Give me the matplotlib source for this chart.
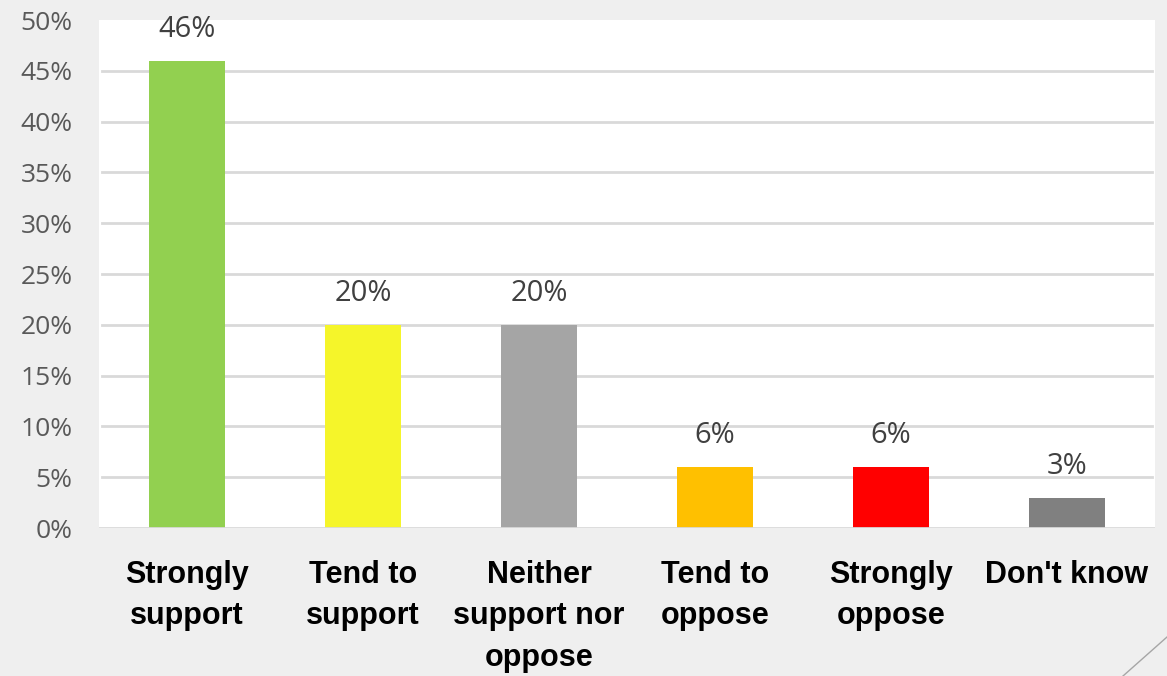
import matplotlib
matplotlib.use("Agg")
import matplotlib.pyplot as plt
from matplotlib.lines import Line2D

categories = ["Strongly\nsupport", "Tend to\nsupport", "Neither\nsupport nor\noppose", "Tend to\noppose", "Strongly\noppose", "Don't know"]
values = [46, 20, 20, 6, 6, 3]
labels = ["46%", "20%", "20%", "6%", "6%", "3%"]
colors = ["#92d050", "#f5f52a", "#a5a5a5", "#ffc000", "#ff0000", "#808080"]
yticks = [0, 5, 10, 15, 20, 25, 30, 35, 40, 45, 50]

fig = plt.figure(figsize=(11.67, 6.76), dpi=100, facecolor="#efefef")
ax = fig.add_axes([99/1167, 1-528/676, (1155-99)/1167, (528-20)/676])
ax.set_facecolor("white")

x = list(range(len(categories)))
bars = ax.bar(x, values, width=0.43, color=colors, zorder=3)
ax.set_xlim(-0.5, len(categories) - 0.5)
ax.set_ylim(0, 50)
ax.set_yticks(yticks)
ax.set_yticklabels([f"{t}%" for t in yticks], fontsize=19, color="#595959", family="Open Sans")
ax.set_xticks(x)
ax.set_xticklabels(categories, fontsize=22, fontweight="bold", family="Liberation Sans",
                   color="black", va="top", linespacing=1.5)
ax.tick_params(axis="x", length=0, pad=23)
ax.tick_params(axis="y", length=0, pad=19)

for t in yticks[1:-1]:
    ax.axhline(t, xmin=3/1056, xmax=1053/1056, color="#d9d9d9", lw=2, zorder=1)
ax.axhline(0, color="#d9d9d9", lw=2, zorder=4)
for s in ax.spines.values():
    s.set_visible(False)

for b, lab in zip(bars, labels):
    ax.annotate(lab, (b.get_x() + b.get_width()/2, b.get_height()), xytext=(0, 17),
                textcoords="offset points", ha="center", va="baseline",
                fontsize=21, color="#404040", family="Open Sans")

fig.add_artist(Line2D([1123/1167, 1.0], [0, 1-637/676], transform=fig.transFigure,
                      color="#a6a6a6", lw=1))

fig.savefig("out.png", dpi=100, facecolor=fig.get_facecolor())
